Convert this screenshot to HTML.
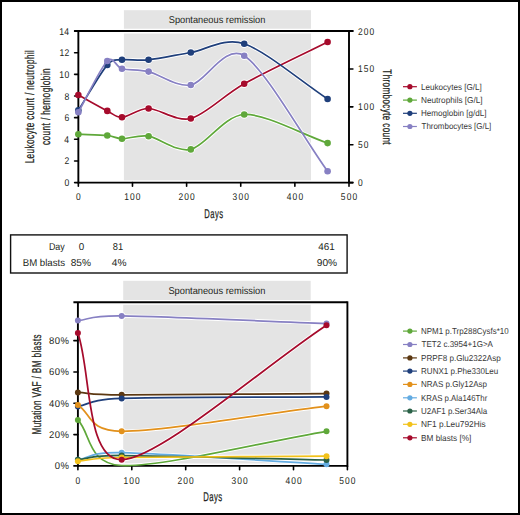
<!DOCTYPE html>
<html><head><meta charset="utf-8"><style>
html,body{margin:0;padding:0;background:#fff;overflow:hidden;}
svg{display:block;}
text{font-family:"Liberation Sans",sans-serif;text-rendering:geometricPrecision;}
</style></head><body>
<svg width="520" height="515" viewBox="0 0 520 515">
<rect width="520" height="515" fill="#fff"/>
<rect x="123.9" y="10.2" width="187.10" height="170.80" fill="#e4e4e4"/>
<line x1="78.35" y1="31.07" x2="349.00" y2="31.07" stroke="#ffffff" stroke-width="4.699999999999999" stroke-linecap="butt"/>
<line x1="78.35" y1="182.60" x2="349.00" y2="182.60" stroke="#ffffff" stroke-width="4.699999999999999" stroke-linecap="butt"/>
<path d="M78.35,95.00 C87.03,99.77 100.55,107.45 107.30,110.90 C113.57,114.11 116.00,117.65 122.00,117.30 C128.35,116.93 138.53,108.32 148.60,108.50 C159.12,108.68 176.76,122.13 190.80,118.50 C205.39,114.73 224.10,95.04 244.20,83.80 C265.08,72.13 302.58,54.54 327.60,42.00" fill="none" stroke="#ffffff" stroke-width="3.5" stroke-linejoin="round" stroke-linecap="round"/>
<circle cx="78.35" cy="95.00" r="4.2" fill="#ffffff"/>
<circle cx="107.30" cy="110.90" r="4.2" fill="#ffffff"/>
<circle cx="122.00" cy="117.30" r="4.2" fill="#ffffff"/>
<circle cx="148.60" cy="108.50" r="4.2" fill="#ffffff"/>
<circle cx="190.80" cy="118.50" r="4.2" fill="#ffffff"/>
<circle cx="244.20" cy="83.80" r="4.2" fill="#ffffff"/>
<circle cx="327.60" cy="42.00" r="4.2" fill="#ffffff"/>
<path d="M78.35,134.20 C87.03,134.59 100.57,134.81 107.30,135.50 C113.60,136.15 116.00,138.60 122.00,138.70 C128.35,138.81 138.57,134.64 148.60,136.20 C159.15,137.84 176.74,152.59 190.80,149.40 C205.38,146.09 224.04,115.43 244.20,114.50 C265.03,113.54 302.58,134.52 327.60,143.10" fill="none" stroke="#ffffff" stroke-width="3.5" stroke-linejoin="round" stroke-linecap="round"/>
<circle cx="78.35" cy="134.20" r="4.2" fill="#ffffff"/>
<circle cx="107.30" cy="135.50" r="4.2" fill="#ffffff"/>
<circle cx="122.00" cy="138.70" r="4.2" fill="#ffffff"/>
<circle cx="148.60" cy="136.20" r="4.2" fill="#ffffff"/>
<circle cx="190.80" cy="149.40" r="4.2" fill="#ffffff"/>
<circle cx="244.20" cy="114.50" r="4.2" fill="#ffffff"/>
<circle cx="327.60" cy="143.10" r="4.2" fill="#ffffff"/>
<path d="M78.35,110.30 C87.03,96.68 100.46,72.82 107.30,64.90 C113.34,57.91 115.99,60.54 122.00,59.80 C128.34,59.02 138.55,60.87 148.60,59.80 C159.14,58.68 176.64,54.89 190.80,52.50 C205.30,50.06 224.39,36.97 244.20,43.70 C265.26,50.86 302.58,82.41 327.60,99.00" fill="none" stroke="#ffffff" stroke-width="3.5" stroke-linejoin="round" stroke-linecap="round"/>
<circle cx="78.35" cy="110.30" r="4.2" fill="#ffffff"/>
<circle cx="107.30" cy="64.90" r="4.2" fill="#ffffff"/>
<circle cx="122.00" cy="59.80" r="4.2" fill="#ffffff"/>
<circle cx="148.60" cy="59.80" r="4.2" fill="#ffffff"/>
<circle cx="190.80" cy="52.50" r="4.2" fill="#ffffff"/>
<circle cx="244.20" cy="43.70" r="4.2" fill="#ffffff"/>
<circle cx="327.60" cy="99.00" r="4.2" fill="#ffffff"/>
<path d="M78.35,112.20 C87.03,96.84 100.45,67.82 107.30,61.00 C113.33,54.99 115.97,67.15 122.00,68.70 C128.33,70.32 138.57,69.22 148.60,71.60 C159.15,74.10 176.70,87.33 190.80,85.00 C205.35,82.60 224.71,43.50 244.20,55.80 C265.42,69.19 302.58,136.65 327.60,171.30" fill="none" stroke="#ffffff" stroke-width="3.5" stroke-linejoin="round" stroke-linecap="round"/>
<circle cx="78.35" cy="112.20" r="4.2" fill="#ffffff"/>
<circle cx="107.30" cy="61.00" r="4.2" fill="#ffffff"/>
<circle cx="122.00" cy="68.70" r="4.2" fill="#ffffff"/>
<circle cx="148.60" cy="71.60" r="4.2" fill="#ffffff"/>
<circle cx="190.80" cy="85.00" r="4.2" fill="#ffffff"/>
<circle cx="244.20" cy="55.80" r="4.2" fill="#ffffff"/>
<circle cx="327.60" cy="171.30" r="4.2" fill="#ffffff"/>
<line x1="74.10" y1="31.07" x2="353.40" y2="31.07" stroke="#000" stroke-width="1.9" stroke-linecap="butt"/>
<line x1="78.35" y1="182.60" x2="353.40" y2="182.60" stroke="#000" stroke-width="1.9" stroke-linecap="butt"/>
<line x1="78.35" y1="31.07" x2="78.35" y2="183.55" stroke="#000" stroke-width="1.9" stroke-linecap="butt"/>
<line x1="349.00" y1="31.07" x2="349.00" y2="182.60" stroke="#000" stroke-width="1.9" stroke-linecap="butt"/>
<line x1="74.60" y1="182.60" x2="78.35" y2="182.60" stroke="#000" stroke-width="1.6" stroke-linecap="round"/>
<line x1="74.60" y1="160.95" x2="78.35" y2="160.95" stroke="#000" stroke-width="1.6" stroke-linecap="round"/>
<line x1="74.60" y1="139.31" x2="78.35" y2="139.31" stroke="#000" stroke-width="1.6" stroke-linecap="round"/>
<line x1="74.60" y1="117.66" x2="78.35" y2="117.66" stroke="#000" stroke-width="1.6" stroke-linecap="round"/>
<line x1="74.60" y1="96.01" x2="78.35" y2="96.01" stroke="#000" stroke-width="1.6" stroke-linecap="round"/>
<line x1="74.60" y1="74.36" x2="78.35" y2="74.36" stroke="#000" stroke-width="1.6" stroke-linecap="round"/>
<line x1="74.60" y1="52.72" x2="78.35" y2="52.72" stroke="#000" stroke-width="1.6" stroke-linecap="round"/>
<line x1="74.60" y1="31.07" x2="78.35" y2="31.07" stroke="#000" stroke-width="1.6" stroke-linecap="round"/>
<line x1="349.00" y1="182.60" x2="352.90" y2="182.60" stroke="#000" stroke-width="1.6" stroke-linecap="round"/>
<line x1="349.00" y1="144.72" x2="352.90" y2="144.72" stroke="#000" stroke-width="1.6" stroke-linecap="round"/>
<line x1="349.00" y1="106.83" x2="352.90" y2="106.83" stroke="#000" stroke-width="1.6" stroke-linecap="round"/>
<line x1="349.00" y1="68.95" x2="352.90" y2="68.95" stroke="#000" stroke-width="1.6" stroke-linecap="round"/>
<line x1="349.00" y1="31.07" x2="352.90" y2="31.07" stroke="#000" stroke-width="1.6" stroke-linecap="round"/>
<line x1="78.35" y1="182.60" x2="78.35" y2="186.20" stroke="#000" stroke-width="1.6" stroke-linecap="round"/>
<line x1="132.48" y1="182.60" x2="132.48" y2="186.20" stroke="#000" stroke-width="1.6" stroke-linecap="round"/>
<line x1="186.61" y1="182.60" x2="186.61" y2="186.20" stroke="#000" stroke-width="1.6" stroke-linecap="round"/>
<line x1="240.74" y1="182.60" x2="240.74" y2="186.20" stroke="#000" stroke-width="1.6" stroke-linecap="round"/>
<line x1="294.87" y1="182.60" x2="294.87" y2="186.20" stroke="#000" stroke-width="1.6" stroke-linecap="round"/>
<line x1="349.00" y1="182.60" x2="349.00" y2="186.20" stroke="#000" stroke-width="1.6" stroke-linecap="round"/>
<path d="M78.35,95.00 C87.03,99.77 100.55,107.45 107.30,110.90 C113.57,114.11 116.00,117.65 122.00,117.30 C128.35,116.93 138.53,108.32 148.60,108.50 C159.12,108.68 176.76,122.13 190.80,118.50 C205.39,114.73 224.10,95.04 244.20,83.80 C265.08,72.13 302.58,54.54 327.60,42.00" fill="none" stroke="#a60b2c" stroke-width="1.7" stroke-linejoin="round"/>
<circle cx="78.35" cy="95.00" r="3.3" fill="#a60b2c"/>
<circle cx="107.30" cy="110.90" r="3.3" fill="#a60b2c"/>
<circle cx="122.00" cy="117.30" r="3.3" fill="#a60b2c"/>
<circle cx="148.60" cy="108.50" r="3.3" fill="#a60b2c"/>
<circle cx="190.80" cy="118.50" r="3.3" fill="#a60b2c"/>
<circle cx="244.20" cy="83.80" r="3.3" fill="#a60b2c"/>
<circle cx="327.60" cy="42.00" r="3.3" fill="#a60b2c"/>
<path d="M78.35,134.20 C87.03,134.59 100.57,134.81 107.30,135.50 C113.60,136.15 116.00,138.60 122.00,138.70 C128.35,138.81 138.57,134.64 148.60,136.20 C159.15,137.84 176.74,152.59 190.80,149.40 C205.38,146.09 224.04,115.43 244.20,114.50 C265.03,113.54 302.58,134.52 327.60,143.10" fill="none" stroke="#5fa83a" stroke-width="1.7" stroke-linejoin="round"/>
<circle cx="78.35" cy="134.20" r="3.3" fill="#5fa83a"/>
<circle cx="107.30" cy="135.50" r="3.3" fill="#5fa83a"/>
<circle cx="122.00" cy="138.70" r="3.3" fill="#5fa83a"/>
<circle cx="148.60" cy="136.20" r="3.3" fill="#5fa83a"/>
<circle cx="190.80" cy="149.40" r="3.3" fill="#5fa83a"/>
<circle cx="244.20" cy="114.50" r="3.3" fill="#5fa83a"/>
<circle cx="327.60" cy="143.10" r="3.3" fill="#5fa83a"/>
<path d="M78.35,110.30 C87.03,96.68 100.46,72.82 107.30,64.90 C113.34,57.91 115.99,60.54 122.00,59.80 C128.34,59.02 138.55,60.87 148.60,59.80 C159.14,58.68 176.64,54.89 190.80,52.50 C205.30,50.06 224.39,36.97 244.20,43.70 C265.26,50.86 302.58,82.41 327.60,99.00" fill="none" stroke="#1f3f7b" stroke-width="1.7" stroke-linejoin="round"/>
<circle cx="78.35" cy="110.30" r="3.3" fill="#1f3f7b"/>
<circle cx="107.30" cy="64.90" r="3.3" fill="#1f3f7b"/>
<circle cx="122.00" cy="59.80" r="3.3" fill="#1f3f7b"/>
<circle cx="148.60" cy="59.80" r="3.3" fill="#1f3f7b"/>
<circle cx="190.80" cy="52.50" r="3.3" fill="#1f3f7b"/>
<circle cx="244.20" cy="43.70" r="3.3" fill="#1f3f7b"/>
<circle cx="327.60" cy="99.00" r="3.3" fill="#1f3f7b"/>
<path d="M78.35,112.20 C87.03,96.84 100.45,67.82 107.30,61.00 C113.33,54.99 115.97,67.15 122.00,68.70 C128.33,70.32 138.57,69.22 148.60,71.60 C159.15,74.10 176.70,87.33 190.80,85.00 C205.35,82.60 224.71,43.50 244.20,55.80 C265.42,69.19 302.58,136.65 327.60,171.30" fill="none" stroke="#8780c3" stroke-width="1.7" stroke-linejoin="round"/>
<circle cx="78.35" cy="112.20" r="3.3" fill="#8780c3"/>
<circle cx="107.30" cy="61.00" r="3.3" fill="#8780c3"/>
<circle cx="122.00" cy="68.70" r="3.3" fill="#8780c3"/>
<circle cx="148.60" cy="71.60" r="3.3" fill="#8780c3"/>
<circle cx="190.80" cy="85.00" r="3.3" fill="#8780c3"/>
<circle cx="244.20" cy="55.80" r="3.3" fill="#8780c3"/>
<circle cx="327.60" cy="171.30" r="3.3" fill="#8780c3"/>
<text x="-0.38" y="0" font-size="9.8" font-weight="normal" fill="#231f20" letter-spacing="0.4" transform="translate(64.78 186.10) scale(0.8800 1)">0</text>
<text x="-0.49" y="0" font-size="9.8" font-weight="normal" fill="#231f20" letter-spacing="0.4" transform="translate(64.97 164.45) scale(0.8800 1)">2</text>
<text x="-0.22" y="0" font-size="9.8" font-weight="normal" fill="#231f20" letter-spacing="0.4" transform="translate(64.55 142.81) scale(0.8800 1)">4</text>
<text x="-0.50" y="0" font-size="9.8" font-weight="normal" fill="#231f20" letter-spacing="0.4" transform="translate(64.92 121.16) scale(0.8800 1)">6</text>
<text x="-0.43" y="0" font-size="9.8" font-weight="normal" fill="#231f20" letter-spacing="0.4" transform="translate(64.85 99.51) scale(0.8800 1)">8</text>
<text x="-0.75" y="0" font-size="9.8" font-weight="normal" fill="#231f20" letter-spacing="0.4" transform="translate(59.95 77.86) scale(0.8800 1)">10</text>
<text x="-0.75" y="0" font-size="9.8" font-weight="normal" fill="#231f20" letter-spacing="0.4" transform="translate(60.05 56.22) scale(0.8800 1)">12</text>
<text x="-0.75" y="0" font-size="9.8" font-weight="normal" fill="#231f20" letter-spacing="0.4" transform="translate(59.87 34.57) scale(0.8800 1)">14</text>
<text x="-0.38" y="0" font-size="9.8" font-weight="normal" fill="#231f20" letter-spacing="1.3" transform="translate(358.31 186.10) scale(0.8600 1)">0</text>
<text x="-0.39" y="0" font-size="9.8" font-weight="normal" fill="#231f20" letter-spacing="1.3" transform="translate(358.31 148.22) scale(0.8600 1)">50</text>
<text x="-0.75" y="0" font-size="9.8" font-weight="normal" fill="#231f20" letter-spacing="1.3" transform="translate(358.62 110.33) scale(0.8600 1)">100</text>
<text x="-0.75" y="0" font-size="9.8" font-weight="normal" fill="#231f20" letter-spacing="1.3" transform="translate(358.62 72.45) scale(0.8600 1)">150</text>
<text x="-0.49" y="0" font-size="9.8" font-weight="normal" fill="#231f20" letter-spacing="1.3" transform="translate(358.40 34.57) scale(0.8600 1)">200</text>
<text x="-0.38" y="0" font-size="9.8" font-weight="normal" fill="#231f20" letter-spacing="1.3" transform="translate(76.34 200.10) scale(0.8600 1)">0</text>
<text x="-0.75" y="0" font-size="9.8" font-weight="normal" fill="#231f20" letter-spacing="1.3" transform="translate(124.82 200.10) scale(0.8600 1)">100</text>
<text x="-0.49" y="0" font-size="9.8" font-weight="normal" fill="#231f20" letter-spacing="1.3" transform="translate(178.84 200.10) scale(0.8600 1)">200</text>
<text x="-0.37" y="0" font-size="9.8" font-weight="normal" fill="#231f20" letter-spacing="1.3" transform="translate(232.92 200.10) scale(0.8600 1)">300</text>
<text x="-0.22" y="0" font-size="9.8" font-weight="normal" fill="#231f20" letter-spacing="1.3" transform="translate(286.98 200.10) scale(0.8600 1)">400</text>
<text x="-0.39" y="0" font-size="9.8" font-weight="normal" fill="#231f20" letter-spacing="1.3" transform="translate(341.18 200.10) scale(0.8600 1)">500</text>
<text x="-1.03" y="0" font-size="12.6" font-weight="normal" fill="#231f20" letter-spacing="0.7" stroke="#231f20" stroke-width="0.25" transform="translate(204.90 217.80) scale(0.6071 1)">Days</text>
<text x="-0.45" y="0" font-size="9.9" font-weight="normal" fill="#231f20" transform="translate(169.20 23.20) scale(0.9358 1)">Spontaneous remission</text>
<text x="-1.05" y="0" font-size="12.8" font-weight="normal" fill="#231f20" stroke="#231f20" stroke-width="0.25" letter-spacing="0.6" transform="translate(34.10 162.70) rotate(-90) scale(0.6428 1)">Leukocyte count / neutrophil</text>
<text x="-0.54" y="0" font-size="12.8" font-weight="normal" fill="#231f20" stroke="#231f20" stroke-width="0.25" letter-spacing="0.6" transform="translate(50.30 144.70) rotate(-90) scale(0.6488 1)">count / hemoglobin</text>
<text x="-0.28" y="0" font-size="12.3" font-weight="normal" fill="#231f20" stroke="#231f20" stroke-width="0.25" letter-spacing="0.6" transform="translate(383.00 69.50) rotate(90) scale(0.6549 1)">Thrombocyte count</text>
<line x1="403.00" y1="86.70" x2="416.90" y2="86.70" stroke="#a60b2c" stroke-width="1.2" stroke-linecap="butt"/>
<circle cx="409.9" cy="86.70" r="2.6" fill="#a60b2c"/>
<text x="-0.71" y="0" font-size="8.6" font-weight="normal" fill="#383838" transform="translate(421.70 89.50) scale(0.9412 1)">Leukocytes [G/L]</text>
<line x1="403.00" y1="100.10" x2="416.90" y2="100.10" stroke="#5fa83a" stroke-width="1.2" stroke-linecap="butt"/>
<circle cx="409.9" cy="100.10" r="2.6" fill="#5fa83a"/>
<text x="-0.71" y="0" font-size="8.6" font-weight="normal" fill="#383838" transform="translate(421.70 102.90) scale(0.9555 1)">Neutrophils [G/L]</text>
<line x1="403.00" y1="113.30" x2="416.90" y2="113.30" stroke="#1f3f7b" stroke-width="1.2" stroke-linecap="butt"/>
<circle cx="409.9" cy="113.30" r="2.6" fill="#1f3f7b"/>
<text x="-0.71" y="0" font-size="8.6" font-weight="normal" fill="#383838" transform="translate(421.70 116.10) scale(0.9389 1)">Hemoglobin [g/dL]</text>
<line x1="403.00" y1="126.50" x2="416.90" y2="126.50" stroke="#8780c3" stroke-width="1.2" stroke-linecap="butt"/>
<circle cx="409.9" cy="126.50" r="2.6" fill="#8780c3"/>
<text x="-0.19" y="0" font-size="8.6" font-weight="normal" fill="#383838" transform="translate(421.70 129.30) scale(0.9249 1)">Thrombocytes [G/L]</text>
<rect x="10.6" y="234.9" width="336.5" height="38.1" fill="none" stroke="#111" stroke-width="1.4"/>
<text x="-0.82" y="0" font-size="10.0" font-weight="normal" fill="#231f20" transform="translate(49.60 249.90) scale(0.8912 1)">Day</text>
<text x="-0.39" y="0" font-size="10.0" font-weight="normal" fill="#231f20" transform="translate(79.00 249.90) scale(0.9832 1)">0</text>
<text x="-0.43" y="0" font-size="10.0" font-weight="normal" fill="#231f20" transform="translate(113.20 249.90) scale(0.9314 1)">81</text>
<text x="-0.23" y="0" font-size="10.0" font-weight="normal" fill="#231f20" transform="translate(318.40 249.90) scale(0.9896 1)">461</text>
<text x="-0.82" y="0" font-size="10.0" font-weight="normal" fill="#231f20" transform="translate(23.50 265.50) scale(0.9644 1)">BM blasts</text>
<text x="-0.43" y="0" font-size="10.0" font-weight="normal" fill="#231f20" transform="translate(71.10 265.50) scale(1.0144 1)">85%</text>
<text x="-0.23" y="0" font-size="10.0" font-weight="normal" fill="#231f20" transform="translate(112.00 265.50) scale(1.0168 1)">4%</text>
<text x="-0.47" y="0" font-size="10.0" font-weight="normal" fill="#231f20" transform="translate(317.20 265.50) scale(1.0162 1)">90%</text>
<rect x="123.2" y="280.8" width="187.50" height="183.60" fill="#e4e4e4"/>
<line x1="77.90" y1="302.30" x2="347.40" y2="302.30" stroke="#ffffff" stroke-width="4.699999999999999" stroke-linecap="butt"/>
<line x1="77.90" y1="465.90" x2="347.40" y2="465.90" stroke="#ffffff" stroke-width="4.699999999999999" stroke-linecap="butt"/>
<path d="M77.90,419.90 C91.04,433.58 87.14,463.92 121.70,465.50 C160.62,467.28 265.06,441.56 326.50,431.30" fill="none" stroke="#ffffff" stroke-width="3.55" stroke-linejoin="round" stroke-linecap="round"/>
<circle cx="77.90" cy="419.90" r="3.9" fill="#ffffff"/>
<circle cx="326.50" cy="431.30" r="3.9" fill="#ffffff"/>
<path d="M77.90,320.60 C91.04,319.19 88.09,315.49 121.70,315.90 C160.90,316.37 265.06,321.29 326.50,323.60" fill="none" stroke="#ffffff" stroke-width="3.55" stroke-linejoin="round" stroke-linecap="round"/>
<circle cx="77.90" cy="320.60" r="3.9" fill="#ffffff"/>
<circle cx="121.70" cy="315.90" r="3.9" fill="#ffffff"/>
<circle cx="326.50" cy="323.60" r="3.9" fill="#ffffff"/>
<path d="M77.90,392.40 C91.04,393.12 88.10,394.64 121.70,394.80 C160.90,394.99 265.06,393.96 326.50,393.60" fill="none" stroke="#ffffff" stroke-width="3.55" stroke-linejoin="round" stroke-linecap="round"/>
<circle cx="77.90" cy="392.40" r="3.9" fill="#ffffff"/>
<circle cx="121.70" cy="394.80" r="3.9" fill="#ffffff"/>
<circle cx="326.50" cy="393.60" r="3.9" fill="#ffffff"/>
<path d="M77.90,406.40 C91.04,404.00 88.06,399.69 121.70,398.40 C160.89,396.90 265.06,397.35 326.50,396.90" fill="none" stroke="#ffffff" stroke-width="3.55" stroke-linejoin="round" stroke-linecap="round"/>
<circle cx="77.90" cy="406.40" r="3.9" fill="#ffffff"/>
<circle cx="121.70" cy="398.40" r="3.9" fill="#ffffff"/>
<circle cx="326.50" cy="396.90" r="3.9" fill="#ffffff"/>
<path d="M77.90,404.90 C91.04,412.82 87.70,431.12 121.70,431.30 C160.79,431.50 265.06,413.73 326.50,406.20" fill="none" stroke="#ffffff" stroke-width="3.55" stroke-linejoin="round" stroke-linecap="round"/>
<circle cx="77.90" cy="404.90" r="3.9" fill="#ffffff"/>
<circle cx="121.70" cy="431.30" r="3.9" fill="#ffffff"/>
<circle cx="326.50" cy="406.20" r="3.9" fill="#ffffff"/>
<path d="M77.90,459.80 C91.04,457.67 88.07,452.09 121.70,452.70 C160.89,453.41 265.06,460.82 326.50,464.30" fill="none" stroke="#ffffff" stroke-width="3.55" stroke-linejoin="round" stroke-linecap="round"/>
<circle cx="77.90" cy="459.80" r="3.9" fill="#ffffff"/>
<circle cx="121.70" cy="452.70" r="3.9" fill="#ffffff"/>
<circle cx="326.50" cy="464.30" r="3.9" fill="#ffffff"/>
<path d="M77.90,459.70 C91.04,458.44 88.09,455.46 121.70,455.50 C160.90,455.55 265.06,458.65 326.50,460.00" fill="none" stroke="#ffffff" stroke-width="3.55" stroke-linejoin="round" stroke-linecap="round"/>
<circle cx="77.90" cy="459.70" r="3.9" fill="#ffffff"/>
<circle cx="121.70" cy="455.50" r="3.9" fill="#ffffff"/>
<circle cx="326.50" cy="460.00" r="3.9" fill="#ffffff"/>
<path d="M77.90,461.20 C91.04,460.09 88.09,458.18 121.70,457.50 C160.90,456.71 265.06,456.59 326.50,456.20" fill="none" stroke="#ffffff" stroke-width="3.55" stroke-linejoin="round" stroke-linecap="round"/>
<circle cx="77.90" cy="461.20" r="3.9" fill="#ffffff"/>
<circle cx="121.70" cy="457.50" r="3.9" fill="#ffffff"/>
<circle cx="326.50" cy="456.20" r="3.9" fill="#ffffff"/>
<path d="M77.90,333.00 C91.04,371.01 85.68,460.83 121.70,459.70 C159.96,458.50 265.06,365.55 326.50,325.20" fill="none" stroke="#ffffff" stroke-width="3.55" stroke-linejoin="round" stroke-linecap="round"/>
<circle cx="77.90" cy="333.00" r="3.9" fill="#ffffff"/>
<circle cx="121.70" cy="459.70" r="3.9" fill="#ffffff"/>
<circle cx="326.50" cy="325.20" r="3.9" fill="#ffffff"/>
<line x1="73.40" y1="302.30" x2="347.40" y2="302.30" stroke="#000" stroke-width="1.9" stroke-linecap="butt"/>
<line x1="77.90" y1="465.90" x2="347.40" y2="465.90" stroke="#000" stroke-width="1.9" stroke-linecap="butt"/>
<line x1="77.90" y1="302.30" x2="77.90" y2="466.85" stroke="#000" stroke-width="1.9" stroke-linecap="butt"/>
<line x1="347.40" y1="301.35" x2="347.40" y2="466.85" stroke="#000" stroke-width="1.9" stroke-linecap="butt"/>
<line x1="73.90" y1="465.90" x2="77.90" y2="465.90" stroke="#000" stroke-width="1.6" stroke-linecap="round"/>
<line x1="73.90" y1="434.59" x2="77.90" y2="434.59" stroke="#000" stroke-width="1.6" stroke-linecap="round"/>
<line x1="73.90" y1="403.28" x2="77.90" y2="403.28" stroke="#000" stroke-width="1.6" stroke-linecap="round"/>
<line x1="73.90" y1="371.97" x2="77.90" y2="371.97" stroke="#000" stroke-width="1.6" stroke-linecap="round"/>
<line x1="73.90" y1="340.66" x2="77.90" y2="340.66" stroke="#000" stroke-width="1.6" stroke-linecap="round"/>
<line x1="77.90" y1="465.90" x2="77.90" y2="469.70" stroke="#000" stroke-width="1.6" stroke-linecap="round"/>
<line x1="131.80" y1="465.90" x2="131.80" y2="469.70" stroke="#000" stroke-width="1.6" stroke-linecap="round"/>
<line x1="185.70" y1="465.90" x2="185.70" y2="469.70" stroke="#000" stroke-width="1.6" stroke-linecap="round"/>
<line x1="239.60" y1="465.90" x2="239.60" y2="469.70" stroke="#000" stroke-width="1.6" stroke-linecap="round"/>
<line x1="293.50" y1="465.90" x2="293.50" y2="469.70" stroke="#000" stroke-width="1.6" stroke-linecap="round"/>
<line x1="347.40" y1="465.90" x2="347.40" y2="469.70" stroke="#000" stroke-width="1.6" stroke-linecap="round"/>
<path d="M77.90,419.90 C91.04,433.58 87.14,463.92 121.70,465.50 C160.62,467.28 265.06,441.56 326.50,431.30" fill="none" stroke="#5fa83a" stroke-width="1.75" stroke-linejoin="round"/>
<circle cx="77.90" cy="419.90" r="3.0" fill="#5fa83a"/>
<circle cx="326.50" cy="431.30" r="3.0" fill="#5fa83a"/>
<path d="M77.90,320.60 C91.04,319.19 88.09,315.49 121.70,315.90 C160.90,316.37 265.06,321.29 326.50,323.60" fill="none" stroke="#8780c3" stroke-width="1.75" stroke-linejoin="round"/>
<circle cx="77.90" cy="320.60" r="3.0" fill="#8780c3"/>
<circle cx="121.70" cy="315.90" r="3.0" fill="#8780c3"/>
<circle cx="326.50" cy="323.60" r="3.0" fill="#8780c3"/>
<path d="M77.90,392.40 C91.04,393.12 88.10,394.64 121.70,394.80 C160.90,394.99 265.06,393.96 326.50,393.60" fill="none" stroke="#5c3812" stroke-width="1.75" stroke-linejoin="round"/>
<circle cx="77.90" cy="392.40" r="3.0" fill="#5c3812"/>
<circle cx="121.70" cy="394.80" r="3.0" fill="#5c3812"/>
<circle cx="326.50" cy="393.60" r="3.0" fill="#5c3812"/>
<path d="M77.90,406.40 C91.04,404.00 88.06,399.69 121.70,398.40 C160.89,396.90 265.06,397.35 326.50,396.90" fill="none" stroke="#1f3f7b" stroke-width="1.75" stroke-linejoin="round"/>
<circle cx="77.90" cy="406.40" r="3.0" fill="#1f3f7b"/>
<circle cx="121.70" cy="398.40" r="3.0" fill="#1f3f7b"/>
<circle cx="326.50" cy="396.90" r="3.0" fill="#1f3f7b"/>
<path d="M77.90,404.90 C91.04,412.82 87.70,431.12 121.70,431.30 C160.79,431.50 265.06,413.73 326.50,406.20" fill="none" stroke="#e2911c" stroke-width="1.75" stroke-linejoin="round"/>
<circle cx="77.90" cy="404.90" r="3.0" fill="#e2911c"/>
<circle cx="121.70" cy="431.30" r="3.0" fill="#e2911c"/>
<circle cx="326.50" cy="406.20" r="3.0" fill="#e2911c"/>
<path d="M77.90,459.80 C91.04,457.67 88.07,452.09 121.70,452.70 C160.89,453.41 265.06,460.82 326.50,464.30" fill="none" stroke="#64ace2" stroke-width="1.75" stroke-linejoin="round"/>
<circle cx="77.90" cy="459.80" r="3.0" fill="#64ace2"/>
<circle cx="121.70" cy="452.70" r="3.0" fill="#64ace2"/>
<circle cx="326.50" cy="464.30" r="3.0" fill="#64ace2"/>
<path d="M77.90,459.70 C91.04,458.44 88.09,455.46 121.70,455.50 C160.90,455.55 265.06,458.65 326.50,460.00" fill="none" stroke="#2a6147" stroke-width="1.75" stroke-linejoin="round"/>
<circle cx="77.90" cy="459.70" r="3.0" fill="#2a6147"/>
<circle cx="121.70" cy="455.50" r="3.0" fill="#2a6147"/>
<circle cx="326.50" cy="460.00" r="3.0" fill="#2a6147"/>
<path d="M77.90,461.20 C91.04,460.09 88.09,458.18 121.70,457.50 C160.90,456.71 265.06,456.59 326.50,456.20" fill="none" stroke="#f2c21b" stroke-width="1.75" stroke-linejoin="round"/>
<circle cx="77.90" cy="461.20" r="3.0" fill="#f2c21b"/>
<circle cx="121.70" cy="457.50" r="3.0" fill="#f2c21b"/>
<circle cx="326.50" cy="456.20" r="3.0" fill="#f2c21b"/>
<path d="M77.90,333.00 C91.04,371.01 85.68,460.83 121.70,459.70 C159.96,458.50 265.06,365.55 326.50,325.20" fill="none" stroke="#a60b2c" stroke-width="1.75" stroke-linejoin="round"/>
<circle cx="77.90" cy="333.00" r="3.0" fill="#a60b2c"/>
<circle cx="121.70" cy="459.70" r="3.0" fill="#a60b2c"/>
<circle cx="326.50" cy="325.20" r="3.0" fill="#a60b2c"/>
<text x="-0.38" y="0" font-size="9.8" font-weight="normal" fill="#231f20" letter-spacing="0.5" transform="translate(55.09 469.40) scale(0.9700 1)">0%</text>
<text x="-0.49" y="0" font-size="9.8" font-weight="normal" fill="#231f20" letter-spacing="0.5" transform="translate(49.42 438.09) scale(0.9700 1)">20%</text>
<text x="-0.22" y="0" font-size="9.8" font-weight="normal" fill="#231f20" letter-spacing="0.5" transform="translate(49.16 406.78) scale(0.9700 1)">40%</text>
<text x="-0.50" y="0" font-size="9.8" font-weight="normal" fill="#231f20" letter-spacing="0.5" transform="translate(49.43 375.47) scale(0.9700 1)">60%</text>
<text x="-0.43" y="0" font-size="9.8" font-weight="normal" fill="#231f20" letter-spacing="0.5" transform="translate(49.36 344.16) scale(0.9700 1)">80%</text>
<text x="-0.38" y="0" font-size="9.8" font-weight="normal" fill="#231f20" letter-spacing="1.3" transform="translate(75.89 483.50) scale(0.8600 1)">0</text>
<text x="-0.75" y="0" font-size="9.8" font-weight="normal" fill="#231f20" letter-spacing="1.3" transform="translate(124.14 483.50) scale(0.8600 1)">100</text>
<text x="-0.49" y="0" font-size="9.8" font-weight="normal" fill="#231f20" letter-spacing="1.3" transform="translate(177.93 483.50) scale(0.8600 1)">200</text>
<text x="-0.37" y="0" font-size="9.8" font-weight="normal" fill="#231f20" letter-spacing="1.3" transform="translate(231.78 483.50) scale(0.8600 1)">300</text>
<text x="-0.22" y="0" font-size="9.8" font-weight="normal" fill="#231f20" letter-spacing="1.3" transform="translate(285.61 483.50) scale(0.8600 1)">400</text>
<text x="-0.39" y="0" font-size="9.8" font-weight="normal" fill="#231f20" letter-spacing="1.3" transform="translate(339.58 483.50) scale(0.8600 1)">500</text>
<text x="-1.03" y="0" font-size="12.6" font-weight="normal" fill="#231f20" letter-spacing="0.7" stroke="#231f20" stroke-width="0.25" transform="translate(203.80 500.90) scale(0.6140 1)">Days</text>
<text x="-0.45" y="0" font-size="9.9" font-weight="normal" fill="#231f20" transform="translate(168.80 294.30) scale(0.9397 1)">Spontaneous remission</text>
<text x="-1.05" y="0" font-size="12.8" font-weight="normal" fill="#231f20" stroke="#231f20" stroke-width="0.25" letter-spacing="0.6" transform="translate(41.00 433.80) rotate(-90) scale(0.6369 1)">Mutation VAF / BM blasts</text>
<line x1="403.00" y1="331.10" x2="416.90" y2="331.10" stroke="#5fa83a" stroke-width="1.2" stroke-linecap="butt"/>
<circle cx="409.9" cy="331.10" r="2.6" fill="#5fa83a"/>
<text x="-0.71" y="0" font-size="8.6" font-weight="normal" fill="#383838" transform="translate(421.70 333.90) scale(0.9248 1)">NPM1 p.Trp288Cysfs*10</text>
<line x1="403.00" y1="344.50" x2="416.90" y2="344.50" stroke="#8780c3" stroke-width="1.2" stroke-linecap="butt"/>
<circle cx="409.9" cy="344.50" r="2.6" fill="#8780c3"/>
<text x="-0.19" y="0" font-size="8.6" font-weight="normal" fill="#383838" transform="translate(421.70 347.30) scale(0.9347 1)">TET2 c.3954+1G&gt;A</text>
<line x1="403.00" y1="357.90" x2="416.90" y2="357.90" stroke="#5c3812" stroke-width="1.2" stroke-linecap="butt"/>
<circle cx="409.9" cy="357.90" r="2.6" fill="#5c3812"/>
<text x="-0.71" y="0" font-size="8.6" font-weight="normal" fill="#383838" transform="translate(421.70 360.70) scale(0.9420 1)">PRPF8 p.Glu2322Asp</text>
<line x1="403.00" y1="371.10" x2="416.90" y2="371.10" stroke="#1f3f7b" stroke-width="1.2" stroke-linecap="butt"/>
<circle cx="409.9" cy="371.10" r="2.6" fill="#1f3f7b"/>
<text x="-0.71" y="0" font-size="8.6" font-weight="normal" fill="#383838" transform="translate(421.70 373.90) scale(0.9345 1)">RUNX1 p.Phe330Leu</text>
<line x1="403.00" y1="384.40" x2="416.90" y2="384.40" stroke="#e2911c" stroke-width="1.2" stroke-linecap="butt"/>
<circle cx="409.9" cy="384.40" r="2.6" fill="#e2911c"/>
<text x="-0.71" y="0" font-size="8.6" font-weight="normal" fill="#383838" transform="translate(421.70 387.20) scale(0.9329 1)">NRAS p.Gly12Asp</text>
<line x1="403.00" y1="397.80" x2="416.90" y2="397.80" stroke="#64ace2" stroke-width="1.2" stroke-linecap="butt"/>
<circle cx="409.9" cy="397.80" r="2.6" fill="#64ace2"/>
<text x="-0.71" y="0" font-size="8.6" font-weight="normal" fill="#383838" transform="translate(421.70 400.60) scale(0.9121 1)">KRAS p.Ala146Thr</text>
<line x1="403.00" y1="411.00" x2="416.90" y2="411.00" stroke="#2a6147" stroke-width="1.2" stroke-linecap="butt"/>
<circle cx="409.9" cy="411.00" r="2.6" fill="#2a6147"/>
<text x="-0.66" y="0" font-size="8.6" font-weight="normal" fill="#383838" transform="translate(421.70 413.80) scale(0.9220 1)">U2AF1 p.Ser34Ala</text>
<line x1="403.00" y1="424.30" x2="416.90" y2="424.30" stroke="#f2c21b" stroke-width="1.2" stroke-linecap="butt"/>
<circle cx="409.9" cy="424.30" r="2.6" fill="#f2c21b"/>
<text x="-0.71" y="0" font-size="8.6" font-weight="normal" fill="#383838" transform="translate(421.70 427.10) scale(0.9680 1)">NF1 p.Leu792His</text>
<line x1="403.00" y1="437.80" x2="416.90" y2="437.80" stroke="#a60b2c" stroke-width="1.2" stroke-linecap="butt"/>
<circle cx="409.9" cy="437.80" r="2.6" fill="#a60b2c"/>
<text x="-0.71" y="0" font-size="8.6" font-weight="normal" fill="#383838" transform="translate(421.70 440.60) scale(0.9580 1)">BM blasts [%]</text>
<rect x="1" y="1" width="518" height="513" fill="none" stroke="#000" stroke-width="2"/>
</svg>
</body></html>
